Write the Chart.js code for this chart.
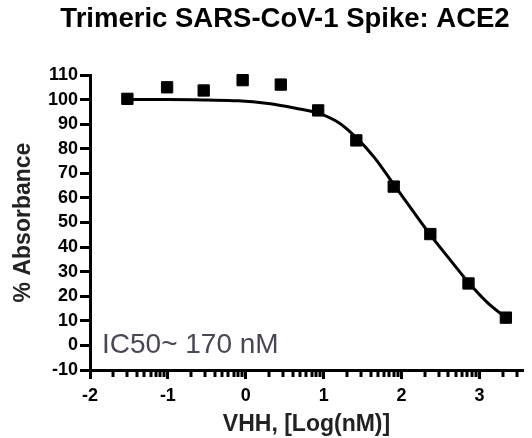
<!DOCTYPE html>
<html>
<head>
<meta charset="utf-8">
<script src="https://cdn.jsdelivr.net/npm/chart.js@4.4.1/dist/chart.umd.min.js"></script>
<style>
  html, body { margin: 0; padding: 0; background: #fff; }
  #wrap { width: 532px; height: 438px; }
</style>
</head>
<body>
<div id="wrap"><canvas id="chart" width="532" height="438"></canvas></div>
<script>
// Trimeric SARS-CoV-1 Spike: ACE2 inhibition curve

const chartTitle = 'Trimeric SARS-CoV-1 Spike: ACE2';
const xAxisTitle = 'VHH, [Log(nM)]';
const yAxisTitle = '% Absorbance';
const noteText = 'IC50~ 170 nM';

// measured points (log nM, % absorbance)
const logConc = [-1.52, -1.01, -0.54, -0.04, 0.45, 0.93, 1.42, 1.90, 2.37, 2.86, 3.34];
const absorbance = [100.3, 105.0, 103.7, 107.9, 106.1, 95.6, 83.4, 64.6, 45.3, 25.2, 11.3];

// fitted curve
const fitX = [-1.53, -1.0, -0.5, -0.1, 0.26, 0.64, 0.93, 1.2, 1.42, 1.65, 1.9, 2.15, 2.37, 2.62, 2.85, 3.1, 3.33];
const fitY = [100.0, 100.0, 99.8, 99.5, 98.5, 96.5, 94.5, 90.5, 84.5, 76.5, 65.5, 54.5, 45.0, 35.0, 26.0, 17.5, 11.5];

const xTickValues = [-2, -1, 0, 1, 2, 3];
const minorSteps = [2, 3, 4, 5, 6, 7, 8, 9];

const FONT = '"Liberation Sans", Arial, sans-serif';

const extras = {
    id: 'extras',
    afterDraw(chart) {
        const c = chart.ctx;
        const area = chart.chartArea;
        const xs = chart.scales.x;
        const ys = chart.scales.y;
        c.save();

        // minor log ticks under the x axis
        c.fillStyle = '#000';
        const yBase = ys.getPixelForValue(-10);
        for (const m of xTickValues) {
            for (const k of minorSteps) {
                const v = m + Math.log10(k);
                if (v > xs.max) continue;
                const px = Math.round(xs.getPixelForValue(v));
                c.fillRect(px - 1.5, yBase, 3, 7);
            }
        }

        // title
        c.fillStyle = '#000';
        c.font = 'bold 27.5px ' + FONT;
        c.textAlign = 'center';
        c.textBaseline = 'middle';
        c.fillText(chartTitle, 285, 19);

        // IC50 note
        c.fillStyle = '#4b4556';
        c.font = '28px ' + FONT;
        c.textAlign = 'left';
        c.fillText(noteText, area.left + 12, ys.getPixelForValue(0));
        c.restore();
    }
};

const ctx = document.getElementById('chart').getContext('2d');

new Chart(ctx, {
    type: 'scatter',
    data: {
        datasets: [
            {
                label: 'Data',
                data: logConc.map((v, i) => ({ x: v, y: absorbance[i] })),
                pointStyle: 'rect',
                pointRadius: 8,
                pointHoverRadius: 8,
                backgroundColor: '#000',
                borderColor: '#000',
                borderWidth: 1,
                showLine: false,
                clip: false
            },
            {
                label: 'Fit',
                type: 'line',
                data: fitX.map((v, i) => ({ x: v, y: fitY[i] })),
                borderColor: '#000',
                borderWidth: 3,
                pointRadius: 0,
                cubicInterpolationMode: 'monotone',
                fill: false,
                clip: false
            }
        ]
    },
    options: {
        responsive: false,
        animation: false,
        devicePixelRatio: 1,
        layout: { padding: { top: 75, right: 1, bottom: 0, left: 0 } },
        plugins: {
            legend: { display: false },
            tooltip: { enabled: false },
            title: { display: false }
        },
        scales: {
            x: {
                type: 'linear',
                min: -2,
                max: 3.56,
                afterBuildTicks: scale => { scale.ticks = xTickValues.map(v => ({ value: v })); },
                afterFit: scale => { scale.height = 68; },
                border: { display: true, color: '#000', width: 3 },
                grid: { drawOnChartArea: false, drawTicks: true, tickLength: 9, tickWidth: 3, tickColor: '#000' },
                ticks: {
                    autoSkip: false,
                    maxRotation: 0,
                    color: '#000',
                    padding: 6,
                    font: { family: FONT, size: 18, weight: 'bold' }
                },
                title: {
                    display: true,
                    text: xAxisTitle,
                    color: '#222',
                    padding: { top: 0, bottom: 0 },
                    font: { family: FONT, size: 23, weight: 'bold' }
                }
            },
            y: {
                min: -10,
                max: 110,
                afterFit: scale => { scale.width = 90; },
                border: { display: true, color: '#000', width: 3 },
                grid: { drawOnChartArea: false, drawTicks: true, tickLength: 10, tickWidth: 3, tickColor: '#000' },
                ticks: {
                    stepSize: 10,
                    autoSkip: false,
                    color: '#000',
                    padding: 2,
                    font: { family: FONT, size: 18, weight: 'bold' }
                },
                title: {
                    display: true,
                    text: yAxisTitle,
                    color: '#222',
                    padding: { top: 10, bottom: 0 },
                    font: { family: FONT, size: 23, weight: 'bold' }
                }
            }
        }
    },
    plugins: [extras]
});
</script>
</body>
</html>
